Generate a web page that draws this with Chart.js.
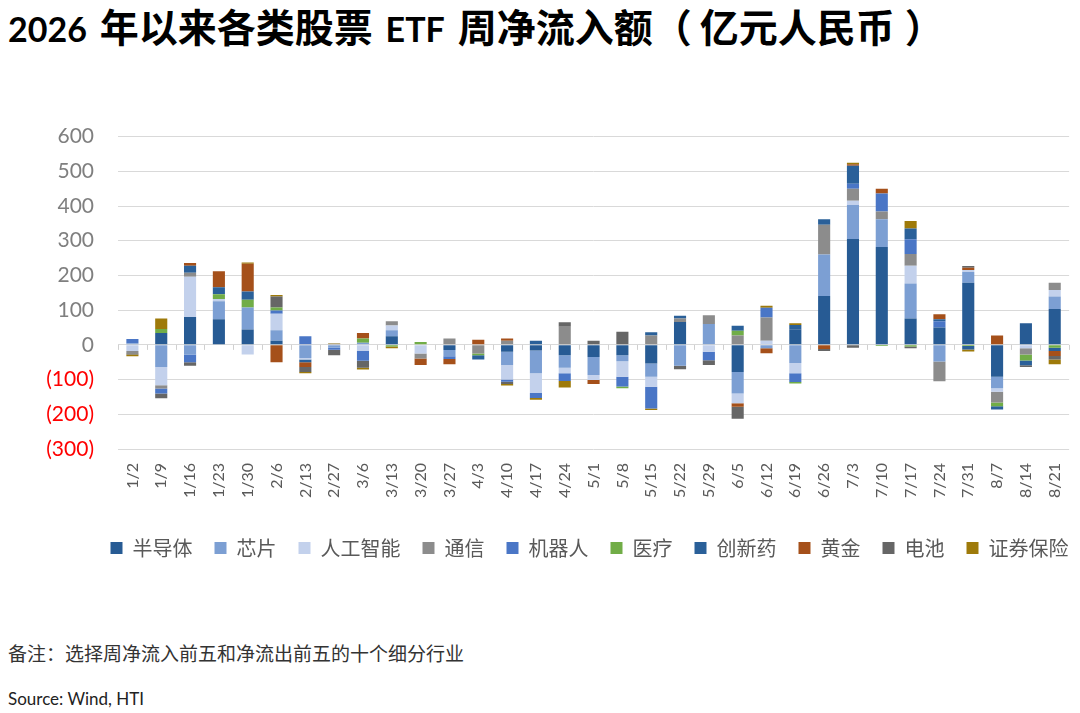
<!DOCTYPE html>
<html><head><meta charset="utf-8">
<script src="https://cdn.jsdelivr.net/npm/chart.js@4.4.1/dist/chart.umd.min.js"></script>
<style>
html,body{margin:0;padding:0;background:#fff;width:1080px;height:713px;overflow:hidden;}
#title{position:absolute;left:8px;top:2px;font:bold 39px "Noto Sans CJK SC",sans-serif;line-height:46px;color:#000;white-space:nowrap;word-spacing:4px;}
#title .lat{font:bold 34px Lato,sans-serif;}
#title .pl{margin-left:0px;margin-right:8px;}
#title .pr{margin-left:10px;}
#wrap{position:absolute;left:0;top:100px;width:1080px;height:480px;}
#note{position:absolute;left:8px;top:641px;font:19px "Noto Sans CJK SC",sans-serif;line-height:24px;color:#333;white-space:nowrap;}
#src{position:absolute;left:8px;top:688px;font:17px Lato,sans-serif;line-height:22px;color:#222;white-space:nowrap;}
</style></head>
<body>
<div id="title"><span class="lat">2026</span> 年以来各类股票 <span class="lat">ETF</span> 周净流入额<span class="pl">（</span>亿元人民币<span class="pr">）</span></div>
<div id="wrap"><canvas id="c" width="1080" height="480"></canvas></div>
<div id="note">备注：选择周净流入前五和净流出前五的十个细分行业</div>
<div id="src">Source: Wind, HTI</div>
<script>
const categories = ["1/2","1/9","1/16","1/23","1/30","2/6","2/13","2/27","3/6","3/13","3/20","3/27","4/3","4/10","4/17","4/24","5/1","5/8","5/15","5/22","5/29","6/5","6/12","6/19","6/26","7/3","7/10","7/17","7/24","7/31","8/7","8/14","8/21"];
const seriesNames = ["半导体","芯片","人工智能","通信","机器人","医疗","创新药","黄金","电池","证券保险"];
const seriesColors = ["#275B94","#7C9FD3","#C3D1EC","#8C8C8C","#4A76C6","#71AD47","#2A6099","#A5501A","#666666","#9E7A0A"];
// values per series, aligned with categories
const semiconductor = [0,34,80,74,44,12,0,0,0,25,0,-15,0,-20,-16,-30,-35,-30,-54,66,0,-78,0,45,141,305,282,76,50,179,-92,62,103];
const chips         = [5,-64,-28,52,64,30,-38,-8,6,17,0,-18,0,-38,-66,-36,-52,-17,-38,-60,60,-62,-10,-52,119,98,80,101,-48,31,-33,0,36];
const ai            = [-18,-52,116,6,-28,48,-4,0,-18,14,-25,0,0,-42,-57,-16,-14,-45,-29,0,-20,-28,12,-30,0,12,0,51,0,6,-10,-10,19];
const telecom       = [-6,-10,12,0,0,0,0,3,0,12,-14,18,-25,12,0,52,0,0,27,10,25,27,67,0,86,35,22,34,-57,0,-31,-18,21];
const robots        = [12,-14,-22,0,0,9,25,-6,-28,0,0,-8,0,-6,-14,-22,0,-28,-62,0,-24,0,28,-25,0,14,52,42,18,0,0,0,0];
const medical       = [0,12,0,14,22,9,0,0,12,-5,8,0,-5,0,0,0,0,-5,0,0,0,14,0,-4,0,0,-3,-5,0,-3,-11,-17,-8];
const innovDrugs    = [0,0,20,20,24,0,-8,0,0,0,0,0,-12,0,12,0,0,0,9,8,0,14,0,12,16,52,0,31,6,-10,-9,-14,-10];
const gold          = [0,0,8,46,80,-50,-14,0,16,0,-19,-15,15,6,0,0,-12,0,0,0,0,-10,-14,0,-12,4,14,0,14,6,27,0,-14];
const battery       = [-4,-14,-10,0,0,31,-14,-16,-20,0,0,0,0,-7,0,13,12,38,0,-10,-14,-35,0,0,-6,-8,0,-5,0,5,0,-5,-10];
const securities    = [-5,30,0,0,3,5,-4,2,-5,-5,0,0,0,-4,-5,-19,0,0,-5,0,0,0,6,5,0,5,0,22,0,-6,0,0,-14];
const seriesValues = [semiconductor,chips,ai,telecom,robots,medical,innovDrugs,gold,battery,securities];
const yMin = -300, yMax = 600, yStep = 100;

const legendPlace = {
  id:'legendPlace',
  afterLayout(chart){
    const l = chart.legend;
    const h = l.height;
    l.left += 52; l.right += 52;
    l.top = 416; l.bottom = l.top + h;
  }
};
const zeroTicks = {
  id:'zeroTicks',
  afterDatasetsDraw(chart){
    const x = chart.scales.x, y = chart.scales.y, ctx = chart.ctx;
    const y0 = y.getPixelForValue(0);
    const half = (x.getPixelForTick(1) - x.getPixelForTick(0)) / 2;
    ctx.save();
    ctx.strokeStyle = '#D0D0D0'; ctx.lineWidth = 1;
    ctx.beginPath();
    for (let i = 0; i <= categories.length; i++) {
      const px = Math.round(x.getPixelForTick(0) - half + i * half * 2) + 0.5;
      ctx.moveTo(px, y0); ctx.lineTo(px, y0 + 5);
    }
    ctx.stroke();
    ctx.restore();
  }
};

new Chart(document.getElementById('c'), {
  type:'bar',
  data:{
    labels:categories,
    datasets:seriesNames.map((n,i)=>({label:n,data:seriesValues[i],backgroundColor:seriesColors[i],borderWidth:0,barPercentage:0.42,categoryPercentage:1}))
  },
  options:{
    responsive:false, animation:false, devicePixelRatio:1,
    layout:{padding:{top:27,right:5,left:0,bottom:0}},
    plugins:{
      tooltip:{enabled:false},
      legend:{position:'bottom',labels:{boxWidth:12,boxHeight:12,padding:22,color:'#595959',font:{family:'"Noto Sans CJK SC"',size:20}}}
    },
    scales:{
      x:{stacked:true,grid:{display:false},border:{display:false},
         ticks:{maxRotation:90,minRotation:90,autoSkip:false,padding:6,color:'#595959',font:{family:'Lato',size:16}},
         afterFit(s){s.height=79;}},
      y:{stacked:true,min:yMin,max:yMax,
         ticks:{stepSize:yStep,padding:24,font:{family:'Lato',size:21},
           color:c=>c.tick.value<0?'#FF0000':'#7F7F7F',
           callback:v=>v<0?'('+(-v)+')':String(v)},
         grid:{color:'#D9D9D9',drawTicks:false},border:{display:false},
         afterFit(s){s.width=118;}}
    }
  },
  plugins:[legendPlace,zeroTicks]
});
</script>
</body></html>
